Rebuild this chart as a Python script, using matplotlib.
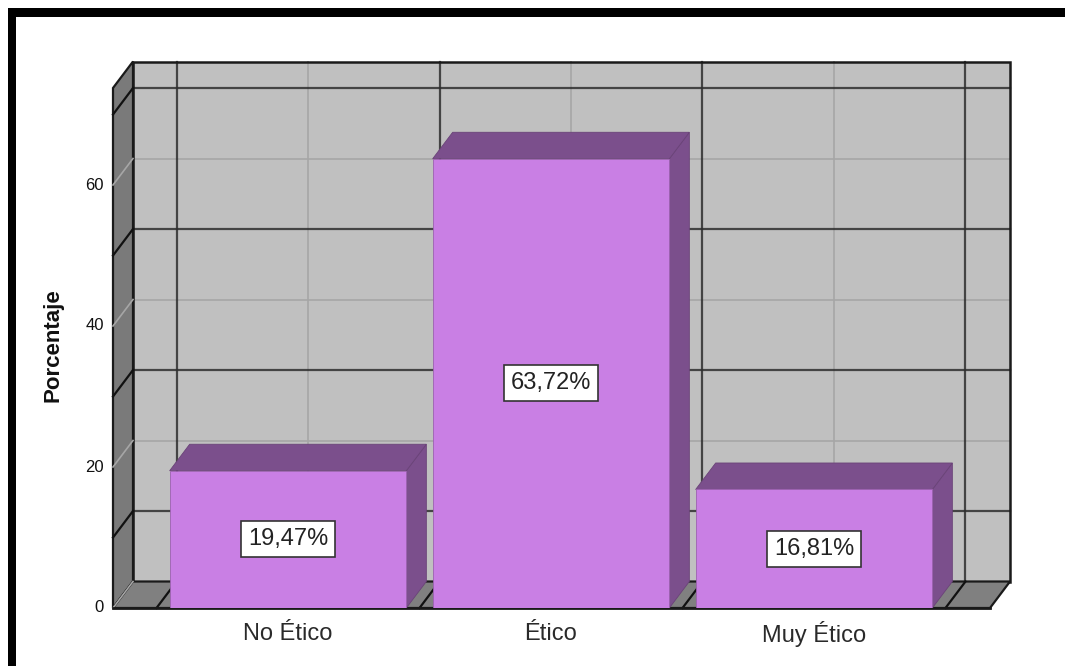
import matplotlib
matplotlib.use("Agg")
import matplotlib.pyplot as plt
from matplotlib.patches import Polygon, Rectangle

# ---------------- data ----------------
categories = ['No Ético', 'Ético', 'Muy Ético']
values = [19.47, 63.72, 16.81]
value_labels = ['19,47%', '63,72%', '16,81%']
tick_values = [0, 20, 40, 60]
major_grid = [10, 30, 50, 70]
minor_grid = [20, 40, 60]
y_label = 'Porcentaje'

# ---------------- style ----------------
W, H = 1065, 666
PX_X = 263.0      # pixels per category
PX_Y = 7.05       # pixels per percent
X0_PX, Y0_PX = 288.0, 608.0
DX = 20 / PX_X
DY = 26.5 / PX_Y
XL = (113 - X0_PX) / PX_X       # front-left wall
XR = (990 - X0_PX) / PX_X       # front-right floor end
WALL_TOP = (608 - 88) / PX_Y
HALF = 0.45

BAR_FRONT = '#C97FE4'
BAR_DEPTH = '#7B4F8C'
BACK = '#C0C0C0'
SIDE = '#7A7A7A'
FLOOR = '#808080'
LIGHT = '#A6A6A6'
DARK = '#2E2E2E'

fig = plt.figure(figsize=(W / 100, H / 100), dpi=100)
fig.patch.set_facecolor('white')
ax = fig.add_axes([113 / W, (H - 608) / H, (1010 - 113) / W, (608 - 62) / H])
ax.set_xlim(XL, (1010 - X0_PX) / PX_X)
ax.set_ylim(0, (608 - 62) / PX_Y)
ax.axis('off')

# back wall
ax.add_patch(Rectangle((XL + DX, DY), (XR - XL), WALL_TOP, facecolor=BACK,
                       edgecolor='none', zorder=1, clip_on=False))
# back wall gridlines
for v in minor_grid:
    ax.plot([XL + DX, XR + DX], [v + DY, v + DY], color=LIGHT, lw=1.2, zorder=2, clip_on=False)
for i in range(len(categories)):
    ax.plot([i + DX, i + DX], [DY, WALL_TOP + DY], color=LIGHT, lw=1.2, zorder=2, clip_on=False)
for v in major_grid:
    ax.plot([XL + DX, XR + DX], [v + DY, v + DY], color=DARK, lw=1.6, alpha=0.85, zorder=3, clip_on=False)
for b in [i - 0.5 for i in range(len(categories) + 1)]:
    ax.plot([b + DX, b + DX], [DY, WALL_TOP + DY], color=DARK, lw=1.6, alpha=0.85, zorder=3, clip_on=False)
ax.add_patch(Rectangle((XL + DX, DY), (XR - XL), WALL_TOP, facecolor='none',
                       edgecolor='#1a1a1a', lw=1.8, zorder=4, clip_on=False))

# left wall
ax.add_patch(Polygon([(XL, 0), (XL + DX, DY), (XL + DX, WALL_TOP + DY), (XL, WALL_TOP)],
                     closed=True, facecolor=SIDE, edgecolor='#1a1a1a', lw=1.6, zorder=5, clip_on=False))
for v in minor_grid:
    ax.plot([XL, XL + DX], [v, v + DY], color=LIGHT, lw=1.2, zorder=6, clip_on=False)
for v in major_grid:
    ax.plot([XL, XL + DX], [v, v + DY], color='#111111', lw=1.6, zorder=6, clip_on=False)
ax.plot([XL, XL + DX], [0, DY], color=LIGHT, lw=1.2, zorder=6, clip_on=False)

# floor
ax.add_patch(Polygon([(XL, 0), (XR, 0), (XR + DX, DY), (XL + DX, DY)],
                     closed=True, facecolor=FLOOR, edgecolor='#1a1a1a', lw=1.6, zorder=5, clip_on=False))
for b in [i - 0.5 for i in range(len(categories) + 1)]:
    ax.plot([b, b + DX], [0, DY], color='#111111', lw=1.6, zorder=6, clip_on=False)
ax.plot([XL, XR], [0, 0], color='#1a1a1a', lw=2, zorder=6, clip_on=False)

# bars
for i, v in enumerate(values):
    l, r = i - HALF, i + HALF
    ax.add_patch(Polygon([(r, 0), (r + DX, DY), (r + DX, v + DY), (r, v)], closed=True,
                         facecolor=BAR_DEPTH, edgecolor='#6A4378', lw=0.6, zorder=10))
    ax.add_patch(Polygon([(l, v), (r, v), (r + DX, v + DY), (l + DX, v + DY)], closed=True,
                         facecolor=BAR_DEPTH, edgecolor='#6A4378', lw=0.6, zorder=10))
    ax.add_patch(Rectangle((l, 0), r - l, v, facecolor=BAR_FRONT,
                           edgecolor='#9C62B0', lw=0.6, zorder=11))
    ax.text(i, v / 2, value_labels[i], ha='center', va='center', fontsize=17,
            family='Liberation Sans', color='#222222', zorder=12,
            bbox=dict(boxstyle='square,pad=0.3', facecolor='white',
                      edgecolor='#333333', lw=1.2))

# tick labels
for t in tick_values:
    ax.text(XL - 9 / PX_X, t, str(t), ha='right', va='center', fontsize=12,
            family='Liberation Sans', color='#111111', clip_on=False)

# category labels
for i, c in enumerate(categories):
    ax.text(i, (608 - 634) / PX_Y, c, ha='center', va='center', fontsize=17,
            family='Liberation Sans', color='#2a2a2a', clip_on=False)

# y axis label
ax.text(XL - 60 / PX_X, (608 - 345) / PX_Y, y_label, rotation=90, ha='center',
        va='center', fontsize=16, fontweight='bold', family='Liberation Sans',
        color='#111111', clip_on=False)

# outer frame (left & top thick black bars)
fig.patches.append(Rectangle((8 / W, 0), 8 / W, (H - 8) / H, transform=fig.transFigure,
                             facecolor='black', edgecolor='none', zorder=20))
fig.patches.append(Rectangle((8 / W, (H - 17) / H), (W - 8) / W, 8.5 / H,
                             transform=fig.transFigure, facecolor='black',
                             edgecolor='none', zorder=20))

fig.savefig('out.png', dpi=100, facecolor='white')
